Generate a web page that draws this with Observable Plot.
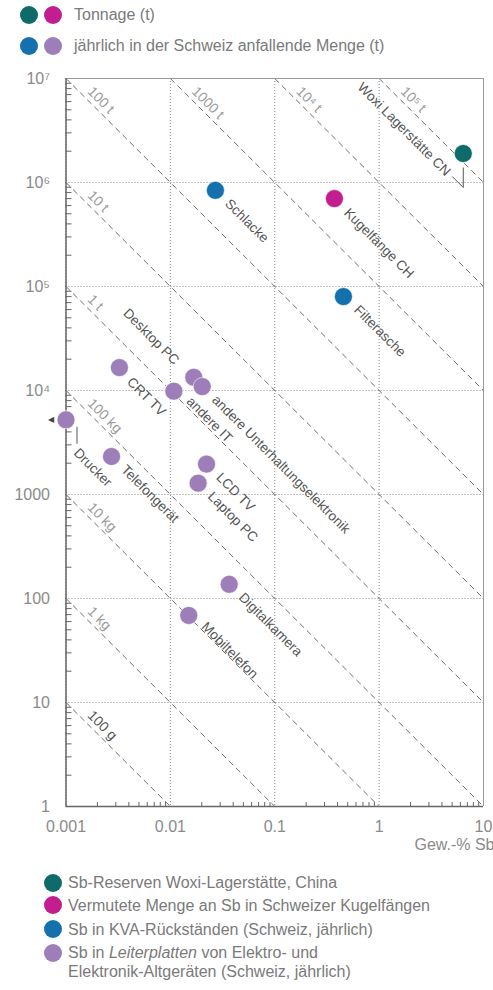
<!DOCTYPE html>
<html><head><meta charset="utf-8">
<script src="https://cdn.jsdelivr.net/npm/d3@7"></script>
<script src="https://cdn.jsdelivr.net/npm/@observablehq/plot@0.6"></script>
<style>
body{margin:0;background:#fff;font-family:"Liberation Sans",Arial,sans-serif;}
#wrap{position:relative;width:493px;height:990px;overflow:hidden;}
.dot{position:absolute;width:18px;height:18px;border-radius:50%;}
.lt{position:absolute;font-size:16px;line-height:20px;white-space:nowrap;color:#7a7a7a;}
</style></head><body><div id="wrap"></div>
<script>
// ---- data ----
const names = ["Woxi Lagerstätte CN","Kugelfänge CH","Schlacke","Filterasche","CRT TV","Desktop PC",
  "andere Unterhaltungselektronik","andere IT","Drucker","Telefongerät","LCD TV","Laptop PC","Digitalkamera","Mobiltelefon"];
const groups = ["woxi","kugel","kva","kva","ep","ep","ep","ep","ep","ep","ep","ep","ep","ep"];
const sbPercent = [6.4,0.373,0.027,0.455,0.00325,0.01675,0.0202,0.0108,0.001,0.00273,0.0222,0.01845,0.0366,0.015];
const tonnage = [1.9e6,7.0e5,8.4e5,8.0e4,1.66e4,1.34e4,1.09e4,9850,5230,2320,1960,1285,137,68.7];

const isoTonnes = [1e-4,1e-3,1e-2,0.1,1,10,100,1000,1e4,1e5];
const isoLabels = ["100 g","1 kg","10 kg","100 kg","1 t","10 t","100 t","1000 t","10⁴ t","10⁵ t"];

const xTicks = [0.001,0.01,0.1,1,10];
const xTickLabels = ["0.001","0.01","0.1","1","10"];
const yTicks = [1,10,100,1000,1e4,1e5,1e6,1e7];
const yTickLabels = ["1","10","100","1000","10⁴","10⁵","10⁶","10⁷"];

const groupKeys = ["woxi","kugel","kva","ep"];
const groupColors = ["#0e6b6a","#c21e8f","#1471ad","#9d7eb8"];
const legendTop = ["Tonnage (t)","jährlich in der Schweiz anfallende Menge (t)"];
const legendBottom = ["Sb-Reserven Woxi-Lagerstätte, China","Vermutete Menge an Sb in Schweizer Kugelfängen",
  "Sb in KVA-Rückständen (Schweiz, jährlich)","Sb in <i>Leiterplatten</i> von Elektro- und<br>Elektronik-Altgeräten (Schweiz, jährlich)"];

// ---- build ----
const pts = names.map((n,i)=>({name:n, group:groups[i], x:sbPercent[i], y:tonnage[i]}));
const color = g => groupColors[groupKeys.indexOf(g)];

const XDEC = 104.45, YDEC = 104;
const xs = (v,px)=>v*Math.pow(10,px/XDEC);
const ys = (v,px)=>v*Math.pow(10,-px/YDEC);

const segs = isoTonnes.map((k,i)=>{
  const p = 100*k;
  const x1 = Math.max(0.001, p/1e7), x2 = Math.min(10, p/1);
  const ax = xs(x1,17.3);
  return {x1, y1:p/x1, x2, y2:p/x2, ax, ay:p/ax, label:isoLabels[i], dark:isoLabels[i]==="100 g"};
});

const minorX = [], minorY = [];
for (const d of [0.001,0.01,0.1,1]) for (let k=2;k<10;k++) minorX.push(d*k);
for (const d of [1,10,100,1000,1e4,1e5,1e6]) for (let k=2;k<10;k++) minorY.push(d*k);

const offs = {
  "Woxi Lagerstätte CN":{dx:-15,dy:20,a:"end"},
  "Desktop PC":{dx:-17,dy:-15,a:"end"},
  "Drucker":{dx:10,dy:31,a:"start"},
  "andere IT":{dx:15,dy:8,a:"start"},
  "Mobiltelefon":{dx:15,dy:9,a:"start"},
  "CRT TV":{dx:10,dy:12,a:"start"},
  "Filterasche":{dx:13,dy:11,a:"start"},
  "Kugelfänge CH":{dx:12,dy:12,a:"start"}
};
const labelMarks = pts.map(p=>{
  const o = offs[p.name] || {dx:12,dy:11,a:"start"};
  return Plot.text([p],{x:"x",y:"y",text:"name",rotate:45,textAnchor:o.a,dx:o.dx,dy:o.dy,fontSize:13.6,fill:"#555"});
});

const woxi = pts[0], dru = pts[8];

const chart = Plot.plot({
  width:493, height:800,
  marginLeft:65.5, marginRight:10, marginTop:18, marginBottom:54,
  x:{type:"log", domain:[0.001,10]},
  y:{type:"log", domain:[1,1e7]},
  style:{fontFamily:'"Liberation Sans",Arial,sans-serif', background:"transparent", overflow:"visible"},
  marks:[
    Plot.gridX(xTicks,{stroke:"#8a8a8a",strokeOpacity:1,strokeDasharray:"1,2"}),
    Plot.gridY(yTicks,{stroke:"#8a8a8a",strokeOpacity:1,strokeDasharray:"1,2"}),
    Plot.link(segs,{x1:"x1",y1:"y1",x2:"x2",y2:"y2",stroke:"#6e6e6e",strokeWidth:1,strokeDasharray:"6,4"}),
    Plot.text(segs.filter(s=>!s.dark),{x:"ax",y:"ay",text:"label",rotate:45,textAnchor:"start",dx:6.6,dy:-6.6,fontSize:14,fill:"#9a9a9a"}),
    Plot.text(segs.filter(s=>s.dark),{x:"ax",y:"ay",text:"label",rotate:45,textAnchor:"start",dx:6.6,dy:-6.6,fontSize:14,fill:"#555"}),
    Plot.ruleY([1e7],{stroke:"#999",strokeWidth:1}),
    Plot.ruleX([10],{stroke:"#999",strokeWidth:1}),
    Plot.ruleY([1],{stroke:"#666",strokeWidth:1.5}),
    Plot.ruleX([0.001],{stroke:"#666",strokeWidth:1.5}),
    Plot.ruleX(minorX,{y1:()=>1,y2:()=>ys(1,-4),stroke:"#666"}),
    Plot.ruleY(minorY,{x1:()=>0.001,x2:()=>xs(0.001,6),stroke:"#666"}),
    Plot.axisX(xTicks,{anchor:"bottom",tickSize:0,tickPadding:14,label:null,fontSize:16,fill:"#8a8a8a",
      tickFormat:d=>xTickLabels[xTicks.indexOf(d)]}),
    Plot.axisY(yTicks,{anchor:"left",tickSize:0,tickPadding:16,label:null,fontSize:16,fill:"#8a8a8a",
      tickFormat:d=>yTickLabels[yTicks.indexOf(d)]}),
    Plot.text(["Gew.-% Sb"],{frameAnchor:"bottom-right",text:d=>d,textAnchor:"end",dx:11,dy:43,fontSize:16,fill:"#8a8a8a"}),
    // leader lines
    Plot.link([woxi],{x1:"x",x2:"x",y1:d=>ys(d.y,14),y2:d=>ys(d.y,34),stroke:"#555"}),
    Plot.link([woxi],{x1:d=>xs(d.x,-11),y1:d=>ys(d.y,23),x2:"x",y2:d=>ys(d.y,34),stroke:"#555"}),
    Plot.link([dru],{x1:d=>xs(d.x,11),x2:d=>xs(d.x,11),y1:d=>ys(d.y,7),y2:d=>ys(d.y,24),stroke:"#555"}),
    Plot.text([dru],{x:"x",y:"y",text:()=>"◀",dx:-15,fontSize:8,fill:"#444",fontFamily:"DejaVu Sans"}),
    Plot.dot(pts,{x:"x",y:"y",r:9,fill:d=>color(d.group),stroke:"#fff",strokeWidth:0.6}),
    ...labelMarks
  ]
});

const wrap = document.getElementById("wrap");
// top legend
const topRows = [[0,1],[2,3]];
const topY = [15,45.7];
legendTop.forEach((t,i)=>{
  [29,52.5].forEach((cx,j)=>{
    const d=document.createElement("div"); d.className="dot";
    d.style.left=(cx-9)+"px"; d.style.top=(topY[i]-9)+"px"; d.style.background=groupColors[topRows[i][j]];
    wrap.appendChild(d);
  });
  const s=document.createElement("div"); s.className="lt"; s.textContent=t;
  s.style.left="74px"; s.style.top=(topY[i]-10)+"px"; wrap.appendChild(s);
});
chart.style.position="absolute"; chart.style.left="0px"; chart.style.top="60px";
wrap.appendChild(chart);
// bottom legend
const botY=[882.7,905,929.3,953.3];
legendBottom.forEach((t,i)=>{
  const d=document.createElement("div"); d.className="dot";
  d.style.left=(52.7-9)+"px"; d.style.top=(botY[i]-9)+"px"; d.style.background=groupColors[i];
  wrap.appendChild(d);
  const s=document.createElement("div"); s.className="lt"; s.innerHTML=t;
  s.style.left="68px"; s.style.top=(botY[i]-9.5)+"px"; s.style.lineHeight=(i===3?"18.7px":"20px");
  wrap.appendChild(s);
});
</script></body></html>
